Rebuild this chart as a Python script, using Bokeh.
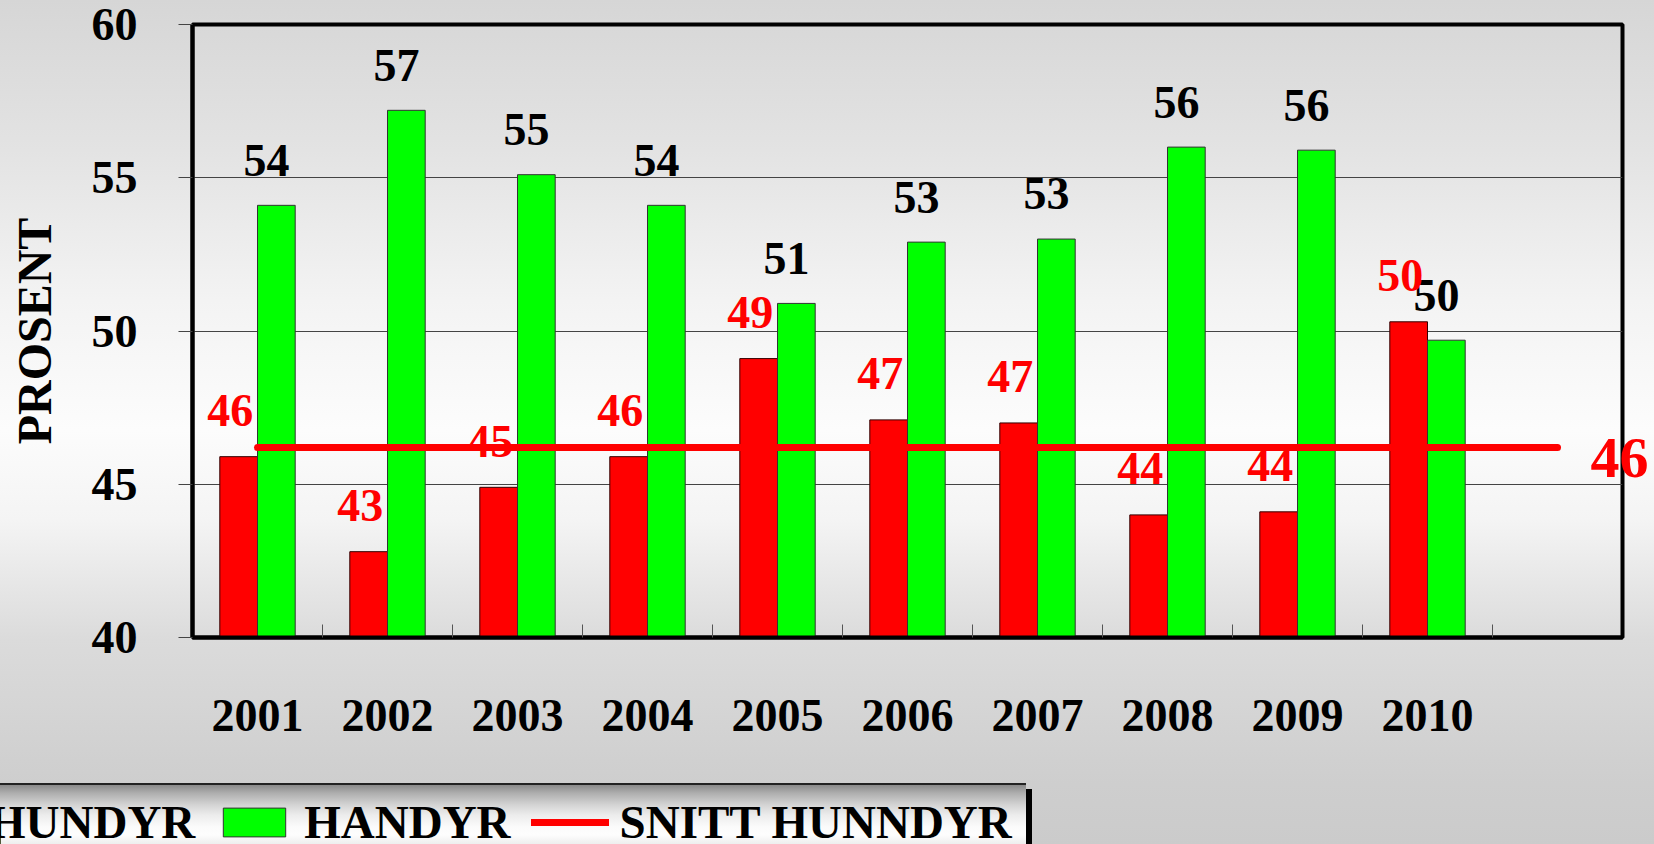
from bokeh.plotting import figure
from bokeh.models import FixedTicker, ColumnDataSource, LinearAxis, Legend, LegendItem
from bokeh.layouts import column
from bokeh.embed import file_html
from bokeh.resources import INLINE

# ---------------- data ----------------
years = ["2001", "2002", "2003", "2004", "2005", "2006", "2007", "2008", "2009", "2010"]
hundyr = [45.9, 42.8, 44.9, 45.9, 49.1, 47.1, 47.0, 44.0, 44.1, 50.3]
handyr = [54.1, 57.2, 55.1, 54.1, 50.9, 52.9, 53.0, 56.0, 55.9, 49.7]
snitt_hunndyr = 46.2
y_ticks = [40, 45, 50, 55, 60]
legend_labels = ["HUNDYR", "HANDYR", "SNITT HUNNDYR"]
y_title = "PROSENT"

FONT = "Liberation Serif"
RED = "#ff0000"
GREEN = "#00ff00"
W = 1654
H_MAIN = 783
H_LEG = 61
n = len(years)
slots = n + 1

p = figure(width=W, height=H_MAIN, x_range=(0, slots), y_range=(y_ticks[0], y_ticks[-1]),
           output_backend="svg", toolbar_location=None,
           min_border_left=192, min_border_right=32, min_border_top=24, min_border_bottom=146)
p.background_fill_color = None
p.background_fill_alpha = 0
p.border_fill_color = None
p.border_fill_alpha = 0
p.outline_line_color = "black"
p.outline_line_width = 4
p.styles = {
    "background": (
        "linear-gradient(to bottom, #d6d6d6 0px, #e3e3e3 150px, #f3f3f3 300px, #fcfcfc 430px, "
        "#f4f4f4 520px, #dbdbdb 640px, #d0d0d0 760px, #cecece 783px)"
    )
}

# ---------------- axes ----------------
yax = p.yaxis[0]
yax.ticker = FixedTicker(ticks=y_ticks)
yax.major_label_text_font = FONT
yax.major_label_text_font_style = "bold"
yax.major_label_text_font_size = "46px"
yax.major_label_text_color = "black"
yax.major_tick_out = 14
yax.major_tick_in = 0
yax.major_tick_line_color = "#444444"
yax.major_tick_line_width = 1
yax.minor_tick_line_color = None
yax.major_label_standoff = 41
yax.axis_line_color = "black"
yax.axis_line_width = 4
yax.axis_label = y_title
yax.axis_label_text_font = FONT
yax.axis_label_text_font_style = "bold"
yax.axis_label_text_font_size = "48px"
yax.axis_label_text_color = "black"
yax.axis_label_standoff = 28

xax = p.xaxis[0]
centers = [i + 0.5 for i in range(n)]
xax.ticker = FixedTicker(ticks=centers, minor_ticks=[i + 1 for i in range(n)])
xax.major_label_overrides = {c: y for c, y in zip(centers, years)}
xax.major_label_text_font = FONT
xax.major_label_text_font_style = "bold"
xax.major_label_text_font_size = "46px"
xax.major_label_text_color = "black"
xax.major_label_standoff = 56
xax.major_tick_line_color = None
xax.minor_tick_in = 13
xax.minor_tick_out = 0
xax.minor_tick_line_color = "#555555"
xax.minor_tick_line_width = 1
xax.axis_line_color = "black"
xax.axis_line_width = 4

# right axis carries the value label of the mean line
mean_label_pos = snitt_hunndyr - 0.35
rax = LinearAxis(ticker=FixedTicker(ticks=[mean_label_pos]),
                 major_label_overrides={mean_label_pos: str(int(round(snitt_hunndyr)))})
rax.axis_line_color = None
rax.major_tick_line_color = None
rax.minor_tick_line_color = None
rax.major_label_standoff = -38
rax.major_label_text_font = FONT
rax.major_label_text_font_style = "bold"
rax.major_label_text_font_size = "58px"
rax.major_label_text_color = RED
p.add_layout(rax, "right")

p.xgrid.visible = False
p.ygrid.ticker = FixedTicker(ticks=y_ticks)
p.ygrid.grid_line_color = "#444444"
p.ygrid.grid_line_width = 1

# ---------------- bars ----------------
bw = 0.29
red_off = -0.145
green_off = 0.145
src = ColumnDataSource(dict(
    xr=[c + red_off for c in centers], xg=[c + green_off for c in centers],
    hun=hundyr, han=handyr,
    xlr=[c - 0.21 for c in centers], xlg=[c + 0.07 for c in centers],
    ylr=[v + 1.5 for v in hundyr], ylg=[v + 1.47 for v in handyr],
    tr=[str(int(round(v))) for v in hundyr], tg=[str(int(round(v))) for v in handyr],
))
red_style = dict(fill_color=RED, line_color="#330000", line_width=1)
green_style = dict(fill_color=GREEN, line_color="#333333", line_width=1)
mean_style = dict(line_color=RED, line_width=7, line_cap="round")

p.vbar(x="xr", top="hun", bottom=y_ticks[0], width=bw, source=src, **red_style)
p.vbar(x="xg", top="han", bottom=y_ticks[0], width=bw, source=src, **green_style)

p.text(x="xlg", y="ylg", text="tg", source=src, text_color="black",
       text_font={"value": FONT}, text_font_style="bold", text_font_size="46px",
       text_align="center", text_baseline="alphabetic")
p.text(x="xlr", y="ylr", text="tr", source=src, text_color=RED,
       text_font={"value": FONT}, text_font_style="bold", text_font_size="46px",
       text_align="center", text_baseline="alphabetic")

# ---------------- mean line ----------------
p.line([centers[0], slots - 0.5], [snitt_hunndyr, snitt_hunndyr], **mean_style)

# ---------------- legend strip (second figure, frame = whole canvas) ----------------
p2 = figure(width=W, height=H_LEG, x_range=(0, 1), y_range=(0, 1),
            output_backend="svg", toolbar_location=None,
            x_axis_type=None, y_axis_type=None,
            min_border_left=0, min_border_right=0, min_border_top=0, min_border_bottom=0)
for fig in (p, p2):
    try:
        fig.frame_align = False
    except Exception:
        pass
p2.outline_line_color = None
p2.background_fill_color = None
p2.background_fill_alpha = 0
p2.border_fill_color = None
p2.border_fill_alpha = 0
p2.xgrid.visible = False
p2.ygrid.visible = False
p2.styles = {
    "background": (
        "linear-gradient(#222222,#222222) 0px 0px / 1026px 2px no-repeat, "
        "linear-gradient(#000000,#000000) 1026px 6px / 6px 60px no-repeat, "
        "linear-gradient(to bottom, #808080 0px, #aeaeae 10px, #d4d4d4 22px, #ececec 32px, "
        "#fbfbfb 44px, #fdfdfd 52px, #eeeeee 61px) 0px 0px / 1026px 61px no-repeat, "
        "linear-gradient(to bottom, #cecece 0px, #cbcbcb 61px)"
    )
}
# legend proxies: one sample each, placed outside the strip's visible range
lr = p2.vbar(x=[-5], top=[0.5], bottom=0, width=0.1, **red_style)
lg = p2.vbar(x=[-5], top=[0.5], bottom=0, width=0.1, **green_style)
lm = p2.line(x=[-6, -5], y=[0.5, 0.5], **mean_style)
legend = Legend(items=[LegendItem(label=legend_labels[0], renderers=[lr]),
                       LegendItem(label=legend_labels[1], renderers=[lg]),
                       LegendItem(label=legend_labels[2], renderers=[lm])],
                orientation="horizontal", location=(-100, -5),
                glyph_width=78, glyph_height=36, label_standoff=11, spacing=20,
                padding=0, margin=0,
                label_text_font=FONT, label_text_font_style="bold",
                label_text_font_size="47px", label_text_color="black",
                background_fill_alpha=0, border_line_color=None)
p2.add_layout(legend)

open("out.html", "w").write(file_html(column(p, p2, spacing=0), INLINE))
